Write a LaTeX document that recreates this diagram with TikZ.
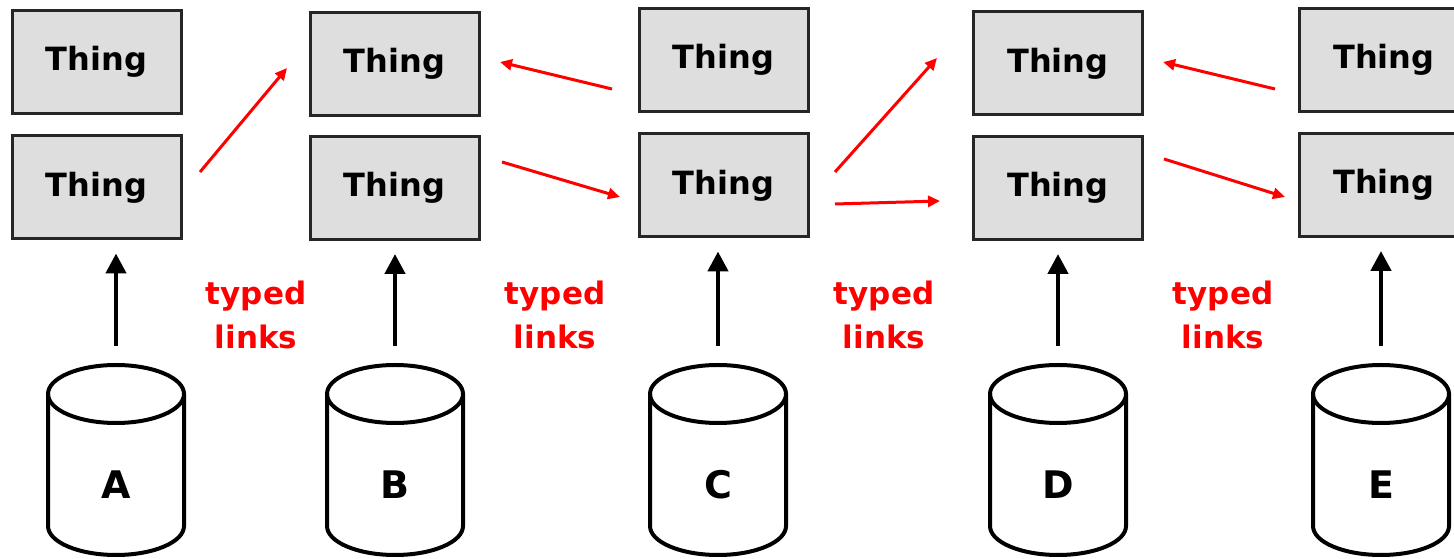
\documentclass[tikz,border=0pt]{standalone}
\usepackage{fontspec}
\setmainfont{DejaVu Sans}
\usetikzlibrary{arrows.meta}
\definecolor{boxfill}{RGB}{222,222,222}
\begin{document}
\begin{tikzpicture}[x=1pt,y=1pt,
  thingbox/.style={draw=black!85, line width=3pt, fill=boxfill, minimum width=169pt, minimum height=103pt, inner sep=0pt, font=\fontsize{32}{38}\selectfont\bfseries},
  linklabel/.style={text=red, align=center, font=\fontsize{31}{44}\selectfont\bfseries},
  feed/.style={line width=4.5pt, -{Triangle[length=20pt,width=20pt]}, shorten <=17pt, shorten >=13pt},
  typed/.style={red, line width=3pt, -{Triangle[length=12pt,width=11pt]}},
  dbline/.style={line width=4pt},
  dbtext/.style={font=\fontsize{38}{44}\selectfont\bfseries}]
\useasboundingbox (0,0) rectangle (1454,559);
\clip (0,0) rectangle (1454,559);

% Thing boxes
\node[thingbox] (aA) at (96.5,497) {Thing};
\node[thingbox] (bA) at (96.5,371.5) {Thing};
\node[thingbox] (aB) at (394.5,495) {Thing};
\node[thingbox] (bB) at (394.5,371) {Thing};
\node[thingbox] (aC) at (723.5,499) {Thing};
\node[thingbox] (bC) at (723.5,373.5) {Thing};
\node[thingbox] (aD) at (1058,495.5) {Thing};
\node[thingbox] (bD) at (1058,371) {Thing};
\node[thingbox] (aE) at (1384,499) {Thing};
\node[thingbox] (bE) at (1384,374) {Thing};

% databases
\foreach \n/\cx in {A/116,B/395,C/718,D/1058,E/1381}{
  \draw[dbline] (\cx-68,165) -- (\cx-68,33) arc[start angle=180,end angle=360,x radius=68,y radius=29] -- (\cx+68,165);
  \draw[dbline] (\cx,165) ellipse[x radius=68,y radius=29];
  \node[dbtext] (l\n) at (\cx,74) {\n};
  \coordinate (t\n) at (\cx,196);
}

% feed arrows
\foreach \n in {A,B,C,D,E}{
  \draw[feed] (t\n) -- (t\n |- b\n.south);
}

% typed link labels
\node[linklabel] (tl1) at (256,244) {typed\\links};
\node[linklabel] (tl2) at (555,244) {typed\\links};
\node[linklabel] (tl3) at (884,244) {typed\\links};
\node[linklabel] (tl4) at (1223,244) {typed\\links};

% typed link arrows
\coordinate (r1s) at (200,387);  \coordinate (r1e) at (287,491);
\coordinate (r2s) at (612,470);  \coordinate (r2e) at (500,497);
\coordinate (r3s) at (502,397);  \coordinate (r3e) at (620,362);
\coordinate (r4s) at (835,387);  \coordinate (r4e) at (937,501);
\coordinate (r5s) at (835,355);  \coordinate (r5e) at (940,358);
\coordinate (r6s) at (1275,470); \coordinate (r6e) at (1163,497);
\coordinate (r7s) at (1164,400); \coordinate (r7e) at (1285,362);
\foreach \i in {1,...,7}{
  \draw[typed] (r\i s) -- (r\i e);
}
\end{tikzpicture}
\end{document}
